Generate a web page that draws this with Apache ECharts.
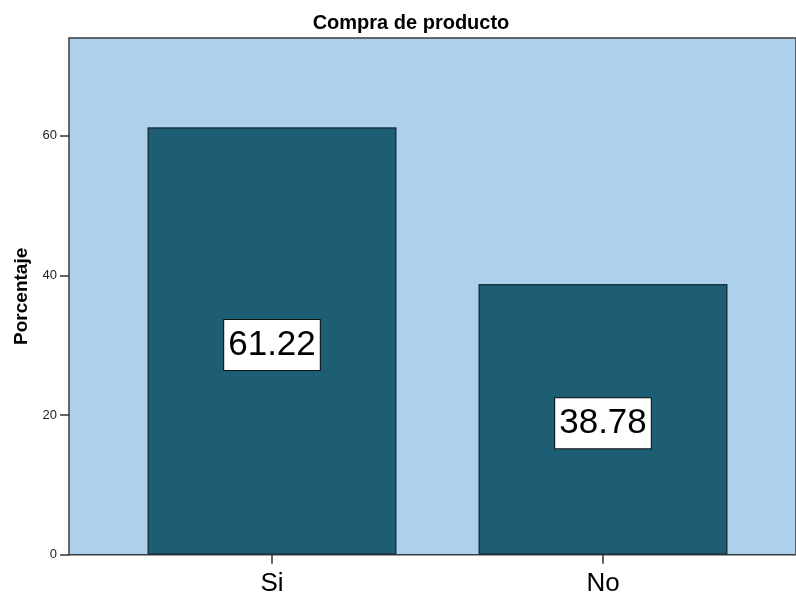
<!DOCTYPE html>
<html>
<head>
<meta charset="utf-8">
<script src="https://cdn.jsdelivr.net/npm/echarts@6/dist/echarts.min.js"></script>
<style>html,body{margin:0;padding:0;background:#fff}#c{width:796px;height:601px}</style>
</head>
<body>
<div id="c"></div>
<script>
const titleText = 'Compra de producto';
const yAxisName = 'Porcentaje';
const categories = ['Si', 'No'];
const percentages = [61.22, 38.78];
const yTicks = [0, 20, 40, 60];

const FONT = '"Liberation Sans", Arial, sans-serif';
const chart = echarts.init(document.getElementById('c'), null, {renderer: 'canvas'});
chart.setOption({
  animation: false,
  backgroundColor: '#ffffff',
  title: {
    text: titleText, left: 406, top: 8, textAlign: 'center',
    textStyle: {fontFamily: FONT, fontSize: 20, fontWeight: 'bold', color: '#000'}
  },
  grid: [
    {left: 69, top: 38, right: -3, bottom: 46.3, show: true,
     backgroundColor: '#ADD0ED', borderColor: '#3c3c3c', borderWidth: 1.5},
    {left: 106.5, width: 662, top: 38, bottom: 46.3}
  ],
  xAxis: [
    {gridIndex: 0, type: 'value', show: false, min: 0, max: 1},
    {gridIndex: 1, type: 'category', data: categories,
     axisLine: {show: false},
     axisTick: {show: true, alignWithLabel: true, length: 9, lineStyle: {color: '#333', width: 1.5}},
     axisLabel: {margin: 16, fontFamily: FONT, fontSize: 26, color: '#000'}}
  ],
  yAxis: [
    {gridIndex: 0, type: 'value', min: 0, max: 74, interval: 20,
     name: yAxisName, nameLocation: 'middle', nameGap: 38, nameRotate: 90,
     nameTextStyle: {fontFamily: FONT, fontSize: 19, fontWeight: 'bold', color: '#000'},
     axisLine: {show: false},
     splitLine: {show: false},
     axisTick: {show: true, length: 9, customValues: yTicks, lineStyle: {color: '#333', width: 1.5}},
     axisLabel: {margin: 12, customValues: yTicks, fontFamily: FONT, fontSize: 13, color: '#222'}},
    {gridIndex: 1, type: 'value', min: 0, max: 74, show: false, splitLine: {show: false}}
  ],
  series: [{
    type: 'bar', xAxisIndex: 1, yAxisIndex: 1,
    data: percentages, barWidth: 249,
    itemStyle: {color: '#1D5E74', borderColor: '#1b3340', borderWidth: 1.5},
    label: {
      show: true, position: 'inside', offset: [0, 4],
      formatter: p => p.value.toFixed(2),
      fontFamily: FONT, fontSize: 35, color: '#000', lineHeight: 40,
      backgroundColor: '#fff', borderColor: '#111', borderWidth: 1,
      padding: [5, 4, 5, 4]
    }
  }]
});
</script>
</body>
</html>
